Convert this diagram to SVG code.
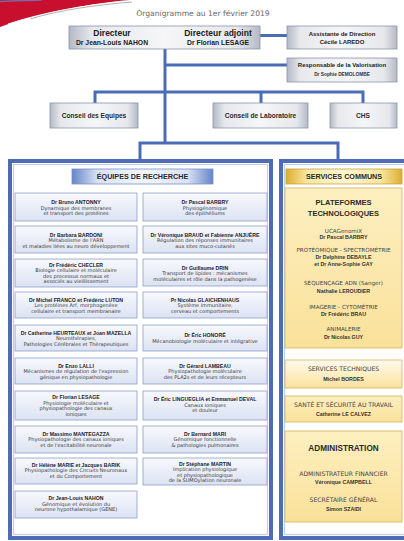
<svg xmlns="http://www.w3.org/2000/svg" width="404" height="541" viewBox="0 0 404 541">
<defs>
<linearGradient id="gGray" x1="0" y1="0" x2="1" y2="0">
<stop offset="0" stop-color="#b4b9c4"/><stop offset="0.12" stop-color="#e6e8ec"/><stop offset="0.5" stop-color="#f6f6f8"/><stop offset="0.88" stop-color="#e6e8ec"/><stop offset="1" stop-color="#b4b9c4"/>
</linearGradient>
<linearGradient id="gTeam" x1="0" y1="0" x2="0" y2="1">
<stop offset="0" stop-color="#f8f9fd"/><stop offset="1" stop-color="#dbe2f2"/>
</linearGradient>
<linearGradient id="gYellow" x1="0" y1="0" x2="0" y2="1">
<stop offset="0" stop-color="#fdefc0"/><stop offset="1" stop-color="#fae19a"/>
</linearGradient>
<linearGradient id="gYellowLight" x1="0" y1="0" x2="0" y2="1">
<stop offset="0" stop-color="#fffaf0"/><stop offset="0.5" stop-color="#fdefc4"/><stop offset="1" stop-color="#fae29e"/>
</linearGradient>
<linearGradient id="gHeadBlue" x1="0" y1="0" x2="1" y2="0">
<stop offset="0" stop-color="#6585c8"/><stop offset="0.18" stop-color="#d9e2f4"/><stop offset="0.5" stop-color="#f3f6fc"/><stop offset="0.82" stop-color="#d9e2f4"/><stop offset="1" stop-color="#6585c8"/>
</linearGradient>
<linearGradient id="gHeadGold" x1="0" y1="0" x2="1" y2="0">
<stop offset="0" stop-color="#dcae32"/><stop offset="0.18" stop-color="#fae6a0"/><stop offset="0.5" stop-color="#fff6d2"/><stop offset="0.82" stop-color="#fae6a0"/><stop offset="1" stop-color="#dcae32"/>
</linearGradient>
<style>
.conn{stroke:#4a6cb4;stroke-width:3;fill:none}
.gbox{fill:url(#gGray);stroke:#8a95ad;stroke-width:0.8}
.tbox{fill:url(#gTeam);stroke:#8d9fcc;stroke-width:0.8}
.ybox{fill:url(#gYellow);stroke:#d2b35a;stroke-width:0.8}
.ybox2{fill:url(#gYellowLight);stroke:#d2b35a;stroke-width:0.8}
.panel{fill:#ffffff;stroke:#4d6cb5;stroke-width:4}
.inner{fill:none;stroke:#c3cee9;stroke-width:1.2}
text{text-anchor:middle}
.title{font-family:"DejaVu Sans",sans-serif;font-size:7.6px;fill:#666}
.big{font-family:"Liberation Sans",Arial,sans-serif;font-weight:bold;font-size:8.5px;fill:#222}
.dn{font-family:"Liberation Sans",Arial,sans-serif;font-weight:bold;font-size:6.8px;fill:#222}
.mid{font-family:"Liberation Sans",Arial,sans-serif;font-weight:bold;font-size:6px;fill:#222}
.sm{font-family:"Liberation Sans",Arial,sans-serif;font-weight:bold;font-size:4.8px;fill:#333}
.cons{font-family:"Liberation Sans",Arial,sans-serif;font-weight:bold;font-size:6.6px;fill:#2a2a2a}
.head{font-family:"Liberation Sans",Arial,sans-serif;font-weight:bold;font-size:7.2px;fill:#2a2a2a}
.tn{font-family:"Liberation Sans",Arial,sans-serif;font-weight:bold;font-size:5.2px;fill:#1d1d2b}
.td{font-family:"DejaVu Sans",sans-serif;font-size:5px;fill:#3a3a3a}
.pt{font-family:"Liberation Sans",Arial,sans-serif;font-weight:bold;font-size:7.5px;fill:#2a2a2a}
.pl{font-family:"DejaVu Sans",sans-serif;font-size:5.6px;fill:#444}
.pn{font-family:"Liberation Sans",Arial,sans-serif;font-weight:bold;font-size:5.3px;fill:#333}
.sl{font-family:"DejaVu Sans",sans-serif;font-size:6.1px;fill:#444}
.adm{font-family:"Liberation Sans",Arial,sans-serif;font-weight:bold;font-size:8.2px;fill:#2a2a2a}
</style>
</defs>
<rect width="404" height="541" fill="#ffffff"/>
<g id="banner">
<path d="M0,0 H130 C95,3 45,11 0,27 Z" fill="#c8102e"/>
<path d="M0,1.5 C10,1 25,0.6 42,0" stroke="#7a6aa8" stroke-width="1.6" fill="none"/>
<path d="M8,24 C45,12 85,5 126,1.5" stroke="#ffffff" stroke-width="1" fill="none"/>
<path d="M30,19 C60,10 95,5 132,2" stroke="#a8a8a8" stroke-width="0.9" fill="none"/>
</g>
<text class="title" x="203" y="16">Organigramme au 1er février 2019</text>
<g id="connectors">
<line class="conn" x1="260" y1="35.5" x2="287" y2="35.5"/>
<line class="conn" x1="165" y1="49" x2="165" y2="143"/>
<line class="conn" x1="165" y1="65" x2="287" y2="65"/>
<polyline class="conn" points="95,103 95,92 363,92 363,103"/>
<line class="conn" x1="261" y1="92" x2="261" y2="103"/>
<polyline class="conn" points="140,160 140,143 338,143 338,160"/>
</g>
<g id="direction">
<rect class="gbox" x="69" y="26" width="191" height="23"/>
<text class="big" x="112" y="36">Directeur</text>
<text class="dn" x="112" y="44.5">Dr Jean-Louis NAHON</text>
<text class="big" x="218" y="36">Directeur adjoint</text>
<text class="dn" x="218" y="44.5">Dr Florian LESAGE</text>
</g>
<g id="assistante">
<rect class="gbox" x="287" y="26" width="110" height="23"/>
<text class="mid" x="342" y="35.5">Assistante de Direction</text>
<text class="mid" x="342" y="43.5">Cécile LAREDO</text>
</g>
<g id="valorisation">
<rect class="gbox" x="287" y="58" width="110" height="24"/>
<text class="mid" x="342" y="67">Responsable de la Valorisation</text>
<text class="sm" x="342" y="76">Dr Sophie DEMOLOMBE</text>
</g>
<g id="conseil-equipes">
<rect class="gbox" x="50" y="103" width="88" height="25"/>
<text class="cons" x="94" y="118">Conseil des Equipes</text>
</g>
<g id="conseil-laboratoire">
<rect class="gbox" x="213" y="103" width="95" height="25"/>
<text class="cons" x="260.5" y="118">Conseil de Laboratoire</text>
</g>
<g id="chs">
<rect class="gbox" x="330" y="103" width="67" height="25"/>
<text class="cons" x="363" y="118">CHS</text>
</g>
<g id="equipes-panel">
<rect class="panel" x="10" y="161" width="261" height="377"/>
<rect class="inner" x="13.5" y="164.5" width="254" height="370"/>
<rect x="72" y="169" width="141" height="15" fill="url(#gHeadBlue)" stroke="#7a90c4" stroke-width="0.8"/>
<text class="head" x="142.5" y="179.3">ÉQUIPES DE RECHERCHE</text>
</g>
<g id="services-panel">
<rect class="panel" x="281" y="161" width="130" height="377"/>
<rect class="inner" x="284.5" y="164.5" width="125" height="370"/>
<rect x="286" y="169" width="116" height="15" fill="url(#gHeadGold)" stroke="#c9a23c" stroke-width="0.8"/>
<text class="head" x="344" y="179.3">SERVICES COMMUNS</text>
</g>
<g id="team-antonny"><rect class="tbox" x="15" y="193" width="122" height="28"/>
<text class="tn" x="76" y="203.5">Dr Bruno ANTONNY</text><text class="td" x="76" y="209.5">Dynamique des membranes</text><text class="td" x="76" y="215">et transport des protéines</text></g>
<g id="team-barbry"><rect class="tbox" x="143" y="193" width="124" height="28"/>
<text class="tn" x="205" y="203.5">Dr Pascal BARBRY</text><text class="td" x="205" y="209.5">Physiogénomique</text><text class="td" x="205" y="215">des épithéliums</text></g>
<g id="team-bardoni"><rect class="tbox" x="15" y="226" width="122" height="27"/>
<text class="tn" x="76" y="236.5">Dr Barbara BARDONI</text><text class="td" x="76" y="242">Métabolisme de l'ARN</text><text class="td" x="76" y="247.5">et maladies liées au neuro développement</text></g>
<g id="team-braud"><rect class="tbox" x="143" y="226" width="124" height="27"/>
<text class="tn" x="205" y="236.5">Dr Véronique BRAUD et Fabienne ANJUÈRE</text><text class="td" x="205" y="242">Régulation des réponses immunitaires</text><text class="td" x="205" y="247.5">aux sites muco-cutanés</text></g>
<g id="team-checler"><rect class="tbox" x="15" y="259" width="122" height="28"/>
<text class="tn" x="76" y="266.5">Dr Frédéric CHECLER</text><text class="td" x="76" y="272">Biologie cellulaire et moléculaire</text><text class="td" x="76" y="277.5">des processus normaux et</text><text class="td" x="76" y="283">associés au vieillissement</text></g>
<g id="team-drin"><rect class="tbox" x="143" y="259" width="124" height="27"/>
<text class="tn" x="205" y="269.5">Dr Guillaume DRIN</text><text class="td" x="205" y="275">Transport de lipides : mécanismes</text><text class="td" x="205" y="280.5">moléculaires et rôle dans la pathogenèse</text></g>
<g id="team-franco"><rect class="tbox" x="15" y="292" width="122" height="26"/>
<text class="tn" x="76" y="301.5">Dr Michel FRANCO et Frédéric LUTON</text><text class="td" x="76" y="307">Les protéines Arf, morphogenèse</text><text class="td" x="76" y="312.5">cellulaire et transport membranaire</text></g>
<g id="team-glaichenhaus"><rect class="tbox" x="143" y="292" width="124" height="26"/>
<text class="tn" x="205" y="301.5">Pr Nicolas GLAICHENHAUS</text><text class="td" x="205" y="307">Système immunitaire,</text><text class="td" x="205" y="312.5">cerveau et comportements</text></g>
<g id="team-heurteaux"><rect class="tbox" x="15" y="325" width="122" height="26"/>
<text class="tn" x="76" y="334.5">Dr Catherine HEURTEAUX et Joan MAZELLA</text><text class="td" x="76" y="340">Neurothérapies,</text><text class="td" x="76" y="345.5">Pathologies Cérébrales et Thérapeutiques</text></g>
<g id="team-honore"><rect class="tbox" x="143" y="325" width="124" height="26"/>
<text class="tn" x="205" y="337">Dr Éric HONORÉ</text><text class="td" x="205" y="342.5">Mécanobiologie moléculaire et intégrative</text></g>
<g id="team-lalli"><rect class="tbox" x="15" y="358" width="122" height="26"/>
<text class="tn" x="76" y="367.5">Dr Enzo LALLI</text><text class="td" x="76" y="373">Mécanismes de régulation de l'expression</text><text class="td" x="76" y="378.5">génique en physiopathologie</text></g>
<g id="team-lambeau"><rect class="tbox" x="143" y="358" width="124" height="26"/>
<text class="tn" x="205" y="367.5">Dr Gérard LAMBEAU</text><text class="td" x="205" y="373">Physiopathologie moléculaire</text><text class="td" x="205" y="378.5">des PLA2s et de leurs récepteurs</text></g>
<g id="team-lesage"><rect class="tbox" x="15" y="391" width="122" height="29"/>
<text class="tn" x="76" y="399">Dr Florian LESAGE</text><text class="td" x="76" y="404.5">Physiologie moléculaire et</text><text class="td" x="76" y="410">physiopathologie des canaux</text><text class="td" x="76" y="415.5">ioniques</text></g>
<g id="team-lingueglia"><rect class="tbox" x="143" y="391" width="124" height="29"/>
<text class="tn" x="205" y="401">Dr Éric LINGUEGLIA et Emmanuel DEVAL</text><text class="td" x="205" y="406.5">Canaux ioniques</text><text class="td" x="205" y="412">et douleur</text></g>
<g id="team-mantegazza"><rect class="tbox" x="15" y="426" width="122" height="27"/>
<text class="tn" x="76" y="435.5">Dr Massimo MANTEGAZZA</text><text class="td" x="76" y="441">Physiopathologie des canaux ioniques</text><text class="td" x="76" y="446.5">et de l'excitabilité neuronale</text></g>
<g id="team-mari"><rect class="tbox" x="143" y="426" width="124" height="27"/>
<text class="tn" x="205" y="435.5">Dr Bernard MARI</text><text class="td" x="205" y="441">Génomique fonctionnelle</text><text class="td" x="205" y="446.5">&amp; pathologies pulmonaires</text></g>
<g id="team-marie"><rect class="tbox" x="15" y="458" width="122" height="26"/>
<text class="tn" x="76" y="466.5">Dr Hélène MARIE et Jacques BARIK</text><text class="td" x="76" y="472">Physiopathologie des Circuits Neuronaux</text><text class="td" x="76" y="477.5">et du Comportement</text></g>
<g id="team-martin"><rect class="tbox" x="143" y="458" width="124" height="27"/>
<text class="tn" x="205" y="465.5">Dr Stéphane MARTIN</text><text class="td" x="205" y="471">Implication physiologique</text><text class="td" x="205" y="476.5">et physiopathologique</text><text class="td" x="205" y="482">de la SUMOylation neuronale</text></g>
<g id="team-nahon"><rect class="tbox" x="15" y="491" width="122" height="27"/>
<text class="tn" x="76" y="500">Dr Jean-Louis NAHON</text><text class="td" x="76" y="505.5">Génomique et évolution du</text><text class="td" x="76" y="511">neurone hypothalamique (GENE)</text></g>
<g id="plateformes"><rect class="ybox" x="285" y="188" width="117" height="160"/>
<text class="pt" x="343.5" y="205">PLATEFORMES</text><text class="pt" x="343.5" y="215.5">TECHNOLOGIQUES</text>
<text class="pl" x="343.5" y="232.5">UCAGenomiX</text><text class="pn" x="343.5" y="239">Dr Pascal BARBRY</text>
<text class="pl" x="343.5" y="252">PROTÉOMIQUE - SPECTROMÉTRIE</text><text class="pn" x="343.5" y="259">Dr Delphine DEBAYLE</text><text class="pn" x="343.5" y="265.5">et Dr Anne-Sophie GAY</text>
<text class="pl" x="343.5" y="285">SÉQUENÇAGE ADN (Sanger)</text><text class="pn" x="343.5" y="293">Nathalie LEROUDIER</text>
<text class="pl" x="343.5" y="309">IMAGERIE - CYTOMÉTRIE</text><text class="pn" x="343.5" y="316">Dr Frédéric BRAU</text>
<text class="pl" x="343.5" y="331">ANIMALERIE</text><text class="pn" x="343.5" y="338.5">Dr Nicolas GUY</text></g>
<g id="services-techniques"><rect class="ybox2" x="285" y="360" width="117" height="28"/>
<text class="sl" x="343.5" y="371">SERVICES TECHNIQUES</text><text class="pn" x="343.5" y="381">Michel BORDES</text></g>
<g id="sante-securite"><rect class="ybox" x="285" y="396" width="117" height="26"/>
<text class="sl" x="343.5" y="407">SANTÉ ET SÉCURITÉ AU TRAVAIL</text><text class="pn" x="343.5" y="416">Catherine LE CALVEZ</text></g>
<g id="administration"><rect class="ybox" x="285" y="431" width="117" height="91"/>
<text class="adm" x="343.5" y="451">ADMINISTRATION</text>
<text class="sl" x="343.5" y="476">ADMINISTRATEUR FINANCIER</text><text class="pn" x="343.5" y="484">Véronique CAMPBELL</text>
<text class="sl" x="343.5" y="502">SECRÉTAIRE GÉNÉRAL</text><text class="pn" x="343.5" y="511">Simon SZAIDI</text></g>
</svg>
